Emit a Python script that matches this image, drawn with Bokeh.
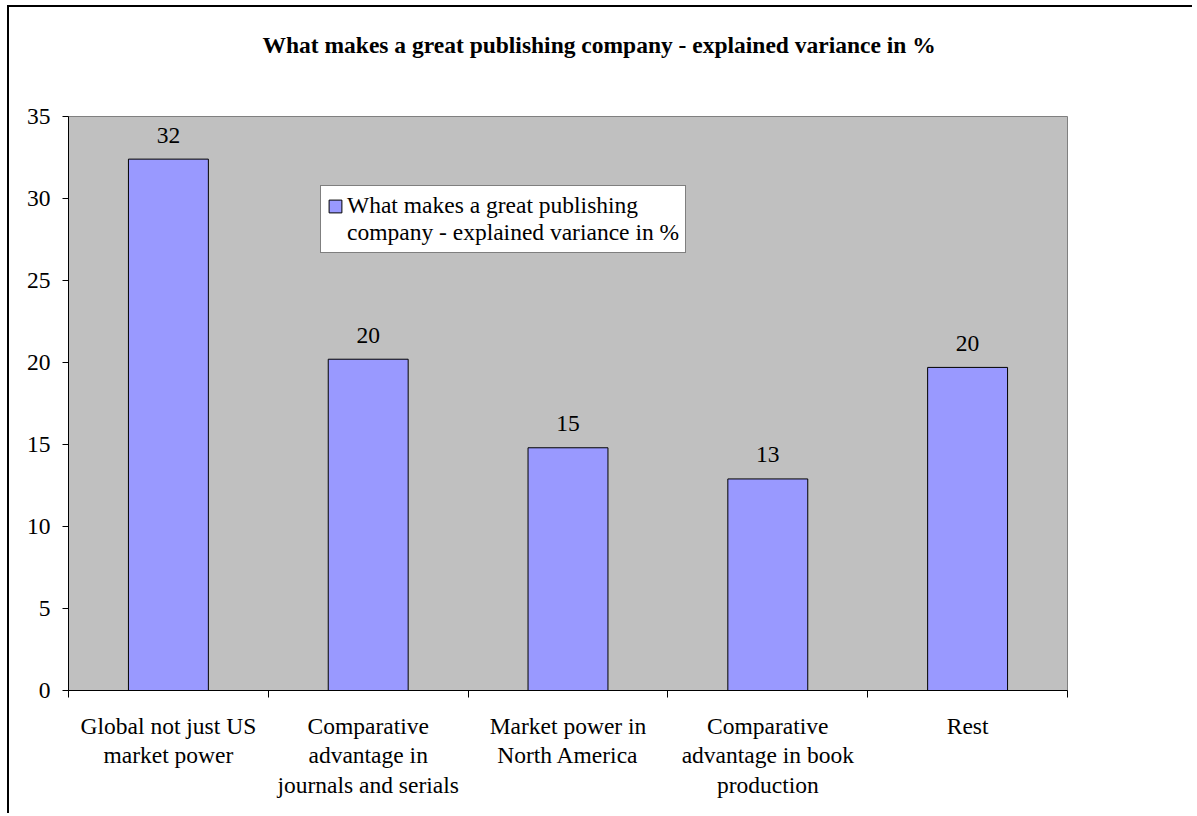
from bokeh.plotting import figure
from bokeh.models import (FixedTicker, Range1d, LinearAxis, Legend, LegendItem,
                          ColumnDataSource, Title)
from bokeh.core.properties import value
from bokeh.embed import file_html
from bokeh.resources import INLINE

# ---- data ----
categories = ["Global not just US\nmarket power",
              "Comparative\nadvantage in\njournals and serials",
              "Market power in\nNorth America",
              "Comparative\nadvantage in book\nproduction",
              "Rest"]
values = [32.4, 20.2, 14.8, 12.9, 19.7]
y_ticks = [0, 5, 10, 15, 20, 25, 30, 35]
series_lines = ["What makes a great publishing", "company - explained variance in %"]
chart_title = "What makes a great publishing company - explained variance in %"

FONT = "Liberation Serif"
FS = "23.5px"

xpos = [i + 0.5 for i in range(len(categories))]
src = ColumnDataSource(dict(x=xpos, top=values,
                            lab=[f"{v:.0f}" for v in values]))

p = figure(width=1185, height=808, output_backend="svg", toolbar_location=None,
           x_range=Range1d(0, len(categories)), y_range=Range1d(0, 35),
           x_axis_type=None, y_axis_type=None,
           min_border_left=59, min_border_right=127,
           min_border_top=109, min_border_bottom=125,
           background_fill_color="#C0C0C0", border_fill_color="white",
           outline_line_color="#808080",
           styles={"border-top": "2px solid black", "border-left": "2px solid black",
                   "margin-left": "7px", "margin-top": "5px"})
p.title_location = None

# spacer (closest to the frame) then the real title above it
p.add_layout(Title(text=" ", text_font_size="1px", standoff=56), "above")
p.add_layout(Title(text=chart_title, text_font=FONT, text_font_size=FS,
                   text_font_style="bold", text_color="black",
                   align="left", offset=194, standoff=0), "above")

# axes
yax = LinearAxis(ticker=FixedTicker(ticks=y_ticks, minor_ticks=[]),
                 major_label_text_font=FONT, major_label_text_font_size=FS,
                 major_label_text_color="black",
                 major_tick_in=0, major_tick_out=6, minor_tick_out=0,
                 major_label_standoff=12, axis_line_color="black",
                 major_tick_line_color="black")
p.add_layout(yax, "left")

xax = LinearAxis(ticker=FixedTicker(ticks=xpos, minor_ticks=list(range(len(categories) + 1))),
                 major_label_overrides={x: c for x, c in zip(xpos, categories)},
                 major_label_text_font=FONT, major_label_text_font_size=FS,
                 major_label_text_color="black", major_label_text_line_height=1.14,
                 major_tick_in=0, major_tick_out=0, minor_tick_in=0, minor_tick_out=7,
                 minor_tick_line_color="black",
                 major_label_standoff=15, axis_line_color="black")
p.add_layout(xax, "below")

p.xgrid.visible = False
p.ygrid.ticker = FixedTicker(ticks=y_ticks)
p.ygrid.grid_line_color = "black"
p.ygrid.grid_line_width = 1

bars = p.vbar(x="x", top="top", width=0.4, source=src,
              fill_color="#9999FF", line_color="black", line_width=1)
# empty, invisible renderer used only for the legend's second text line
blank = p.vbar(x=[], top=[], width=0.4, fill_alpha=0, line_alpha=0)

p.text(x="x", y="top", text="lab", source=src, text_font=value(FONT),
       text_font_size=FS, text_align="center", text_baseline="alphabetic",
       y_offset=-24, text_color="black")

legend = Legend(items=[LegendItem(label=series_lines[0], renderers=[bars]),
                       LegendItem(label=series_lines[1], renderers=[blank])],
                location=(252, 437), orientation="vertical",
                label_text_font=FONT, label_text_font_size=FS,
                label_text_color="black", label_height=27,
                glyph_width=16, glyph_height=16, label_standoff=4,
                padding=6, margin=0, spacing=0,
                border_line_color="black", border_line_width=1,
                background_fill_color="white", background_fill_alpha=1)
p.add_layout(legend, "center")

open("out.html", "w").write(file_html(p, INLINE))
